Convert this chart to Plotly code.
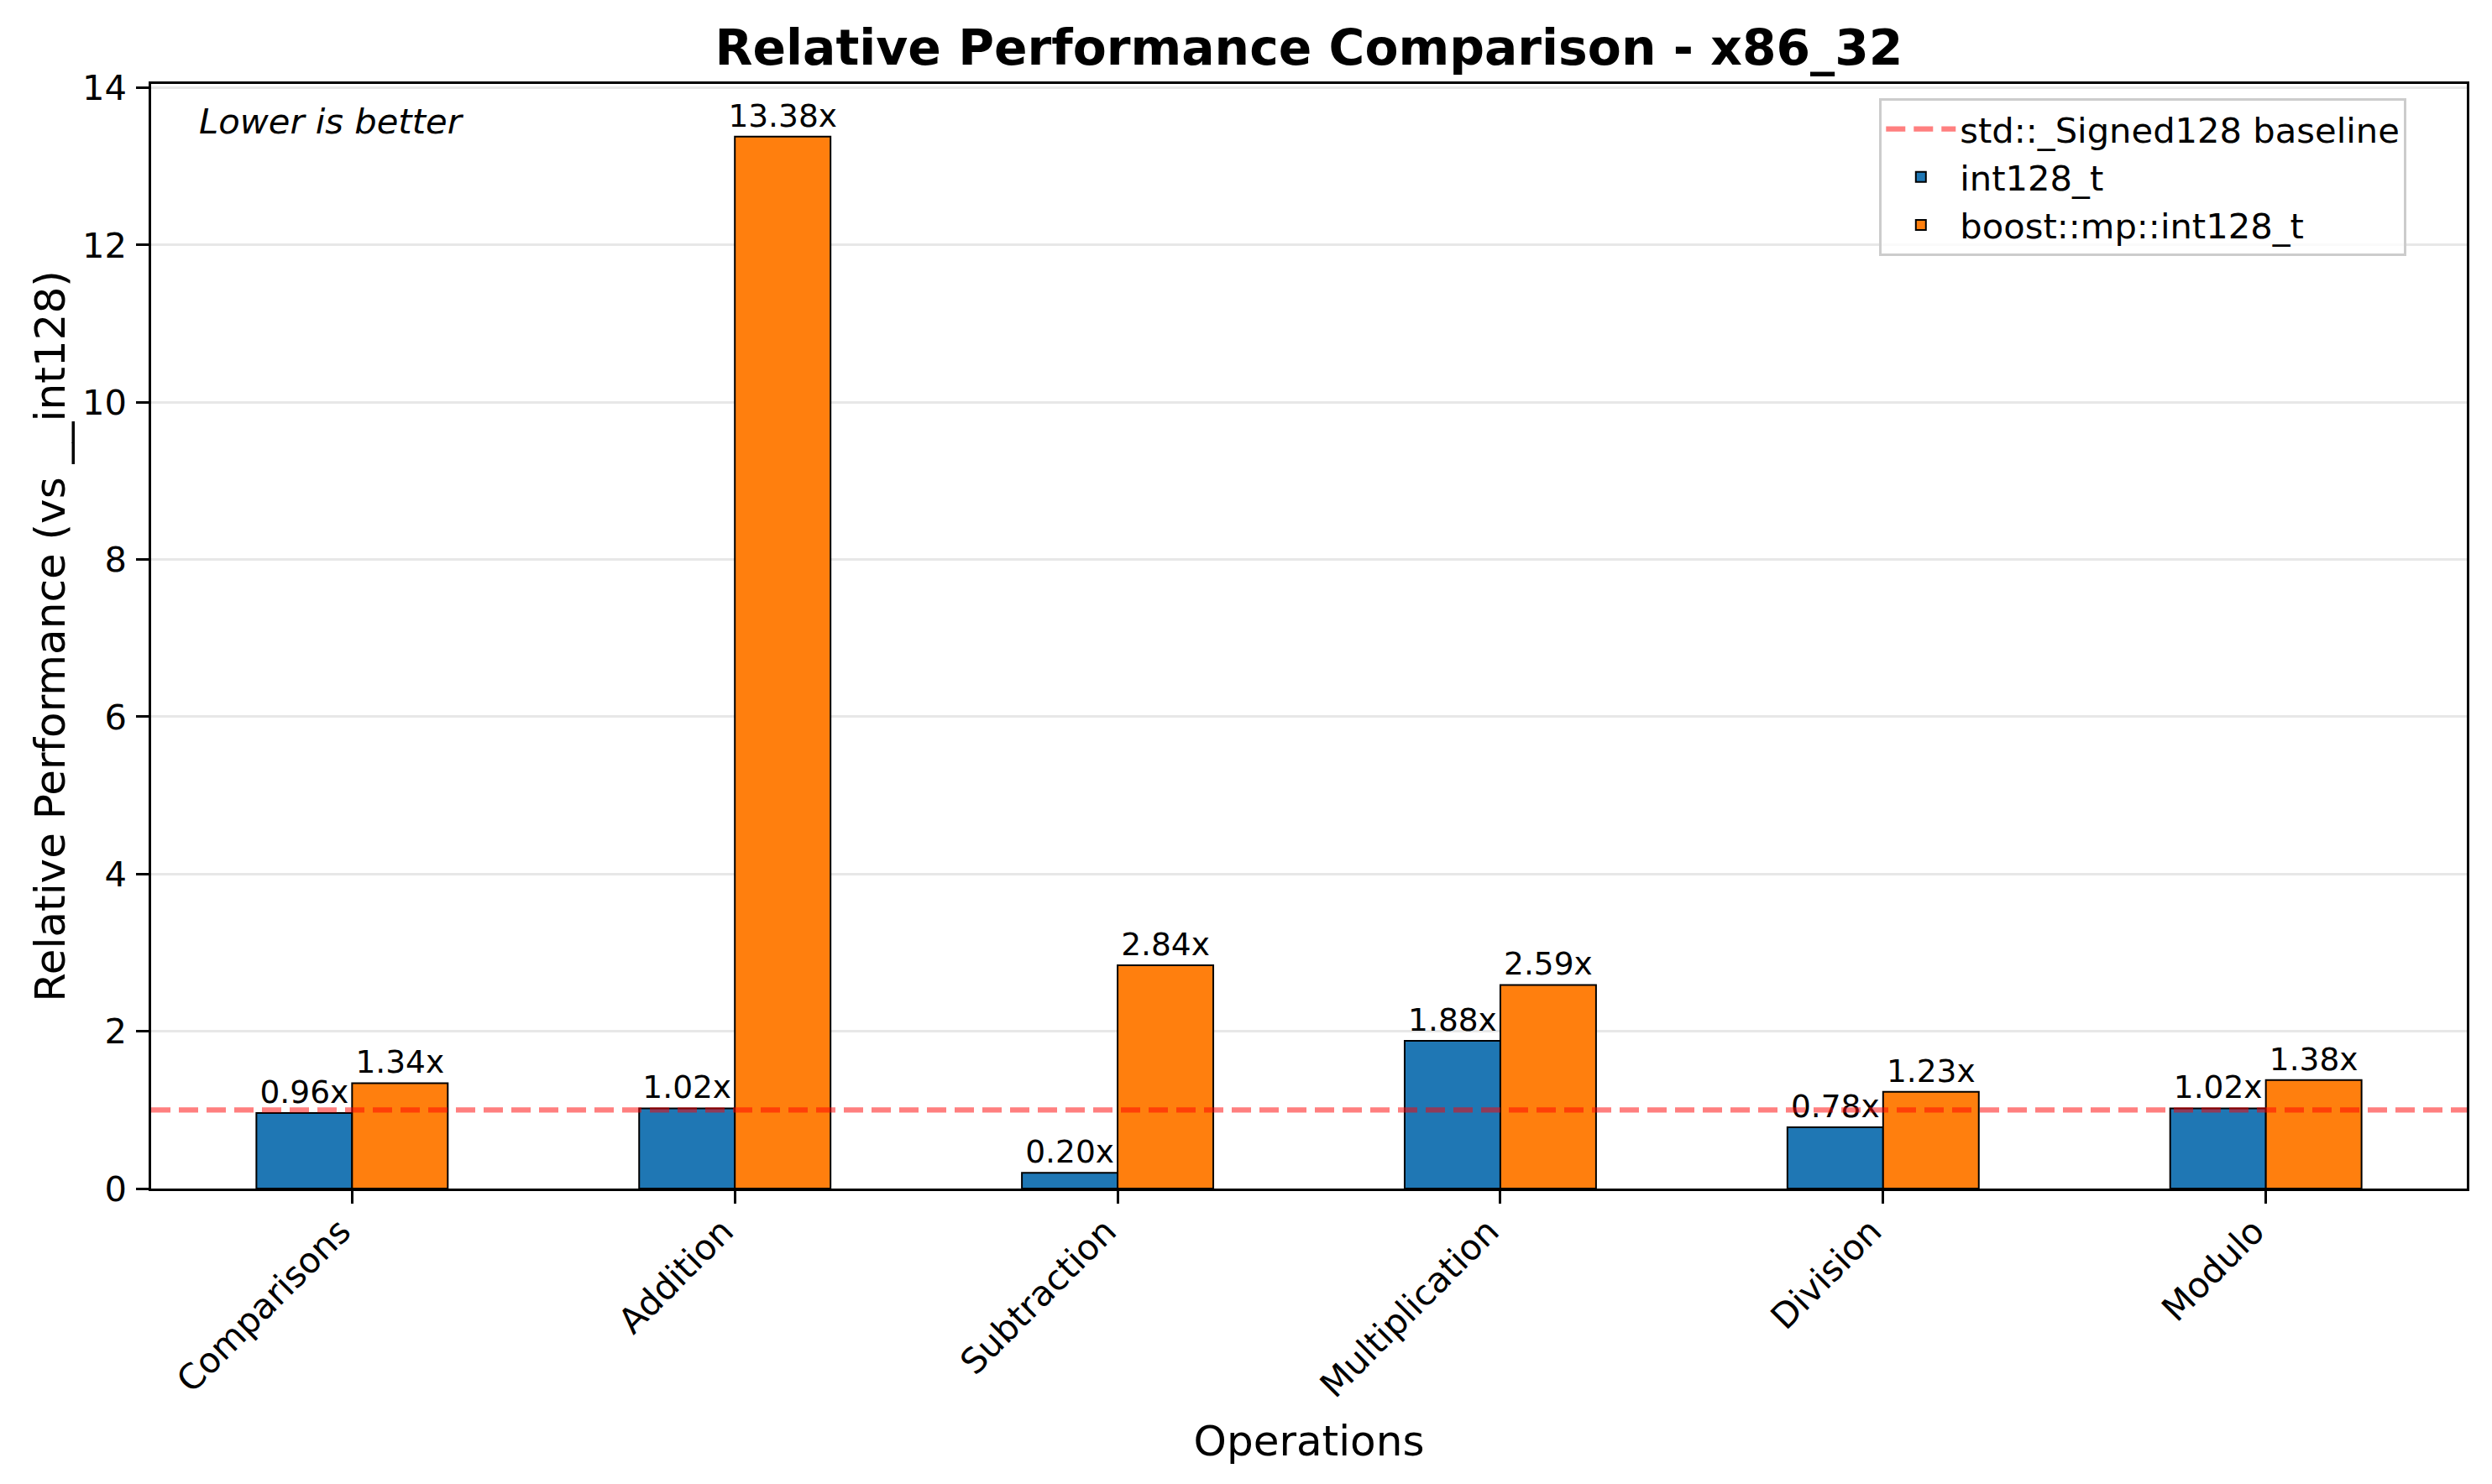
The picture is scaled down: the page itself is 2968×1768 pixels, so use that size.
import plotly.graph_objects as go

categories = ["Comparisons", "Addition", "Subtraction", "Multiplication", "Division", "Modulo"]
int128_t_vals = [0.96, 1.02, 0.20, 1.88, 0.78, 1.02]
boost_vals = [1.34, 13.38, 2.84, 2.59, 1.23, 1.38]
baseline_value = 1.0
series_names = ["int128_t", "boost::mp::int128_t"]
baseline_name = "std::_Signed128 baseline"
y_ticks = [0, 2, 4, 6, 8, 10, 12, 14]

W, H = 2968, 1768
FONT = "DejaVu Sans"
PT = 300 / 72.0

fig = go.Figure()
for name, vals, color, rank in [
    (series_names[0], int128_t_vals, "#1f77b4", 2),
    (series_names[1], boost_vals, "#ff7f0e", 3),
]:
    fig.add_trace(go.Bar(
        x=categories, y=vals, name=name,
        marker=dict(color=color, line=dict(color="black", width=2)),
        texttemplate="%{y:.2f}x", textposition="outside",
        textfont=dict(family=FONT, size=9 * PT, color="black"),
        constraintext="none", cliponaxis=False, legendrank=rank,
    ))

fig.add_hline(
    y=baseline_value,
    line=dict(color="rgba(255,0,0,0.5)", width=1.5 * PT, dash="23px,10px"),
    layer="above", showlegend=True, name=baseline_name, legendrank=1,
)

ymax = max(max(int128_t_vals), max(boost_vals)) * 1.05
n = len(categories)

fig.update_layout(
    width=W, height=H,
    margin=dict(l=180, r=30, t=100, b=352, autoexpand=False),
    paper_bgcolor="white", plot_bgcolor="white",
    font=dict(family=FONT, size=10 * PT, color="black"),
    barmode="group", bargap=0.5, bargroupgap=0,
    title=dict(
        text="<b>Relative Performance Comparison - x86_32</b>",
        font=dict(family=FONT, size=14 * PT, color="black"),
        x=0.5, xref="paper", xanchor="center",
        y=1 - 57 / H, yref="container", yanchor="middle",
    ),
    legend=dict(
        x=0.974, y=0.987, xanchor="right", yanchor="top",
        bgcolor="rgba(255,255,255,0.8)", bordercolor="#cccccc", borderwidth=3,
        font=dict(family=FONT, size=10 * PT, color="black"),
        traceorder="normal", itemwidth=83,
    ),
    xaxis=dict(
        range=[-0.525, n - 1 + 0.525],
        showline=True, linecolor="black", linewidth=0.8 * PT, mirror=True,
        ticks="outside", ticklen=3.5 * PT, tickwidth=0.8 * PT, tickcolor="black",
        tickangle=-45, tickfont=dict(family=FONT, size=10 * PT),
        ticklabelshift=-14, ticklabelstandoff=-8,
        showgrid=False, layer="above traces",
        title=dict(text="Operations", font=dict(family=FONT, size=12 * PT), standoff=26),
    ),
    yaxis=dict(
        range=[0, ymax], tickvals=y_ticks,
        showline=True, linecolor="black", linewidth=0.8 * PT, mirror=True,
        ticks="outside", ticklen=3.5 * PT, tickwidth=0.8 * PT, tickcolor="black",
        ticklabelstandoff=3,
        tickfont=dict(family=FONT, size=10 * PT),
        showgrid=True, gridcolor="rgba(176,176,176,0.3)", gridwidth=0.8 * PT,
        zeroline=False, layer="above traces",
        title=dict(text="Relative Performance (vs __int128)", font=dict(family=FONT, size=12 * PT), standoff=5),
    ),
)

fig.add_annotation(
    text="<i>Lower is better</i>", xref="paper", yref="paper",
    x=0.02, y=0.986, xanchor="left", yanchor="top", showarrow=False,
    font=dict(family=FONT, size=10 * PT, color="black"),
)

fig.write_html("out.html")
